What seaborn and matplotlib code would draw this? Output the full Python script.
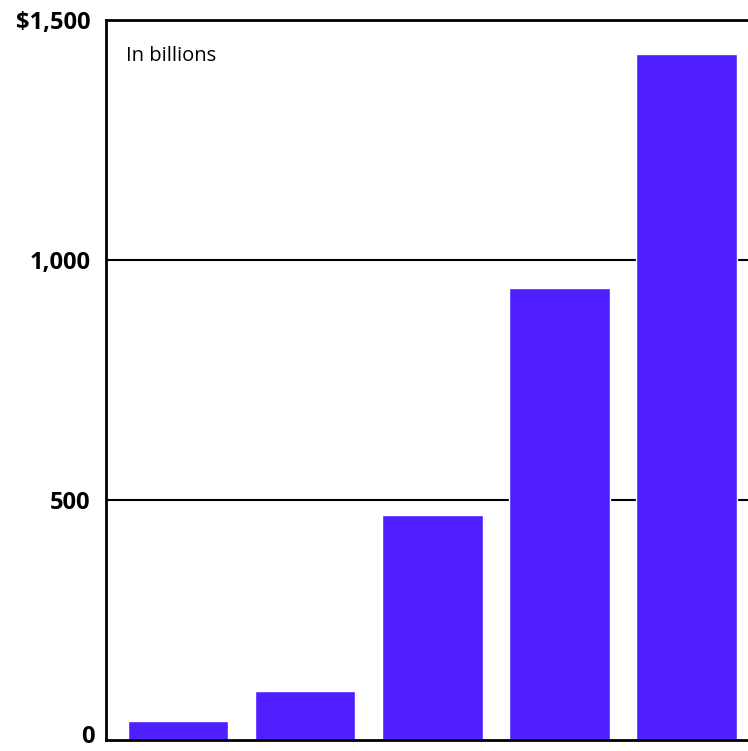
import matplotlib
matplotlib.use("Agg")
import matplotlib.pyplot as plt
import seaborn as sns
import pandas as pd

categories = ["A", "B", "C", "D", "E"]
values = [39, 102, 468, 942, 1429]
ytick_values = [0, 500, 1000, 1500]
ytick_labels = ["0", "500", "1,000", "$1,500"]

sns.set_theme(style="white")
plt.rcParams['font.family'] = ['Open Sans', 'DejaVu Sans']
plt.rcParams['text.color'] = 'black'
plt.rcParams['ytick.color'] = 'black'

df = pd.DataFrame({"cat": categories, "val": values})

fig = plt.figure(figsize=(7.48, 7.51), dpi=100)
ax = fig.add_axes([106/748, 11/751, 1 - 106/748, (740 - 19.5)/751])

sns.barplot(data=df, x="cat", y="val", color="#4F1FFF", saturation=1, width=0.795, ax=ax)

ax.set_ylim(0, 1500)
ax.set_xlim(-0.567, 4.488)
ax.set_yticks(ytick_values)
# the bottom label is drawn separately so it stays inside the figure
shown = ["" if v == 0 else lab for v, lab in zip(ytick_values, ytick_labels)]
ax.set_yticklabels(shown, fontsize=17, fontweight="bold", color="black",
                   va="center_baseline")
ax.annotate(ytick_labels[0], xy=(0, 0), xycoords=("axes fraction", "data"),
            xytext=(-11, -9), textcoords="offset pixels", ha="right", va="bottom",
            fontsize=17, fontweight="bold", color="black", annotation_clip=False)
ax.set_xticks([])
ax.set_xlabel("")
ax.set_ylabel("")
ax.tick_params(axis="y", length=0, pad=11)

for y in [500, 1000]:
    ax.axhline(y, color="black", lw=1.5, zorder=0)

for s in ["left", "top", "bottom"]:
    ax.spines[s].set_visible(True)
    ax.spines[s].set_color("black")
    ax.spines[s].set_linewidth(2)
ax.spines["right"].set_visible(False)

ax.text(0.031, 0.949, "In billions", transform=ax.transAxes, fontsize=14.5,
        va="center", ha="left", color="black")

fig.savefig("out.png", dpi=100)
